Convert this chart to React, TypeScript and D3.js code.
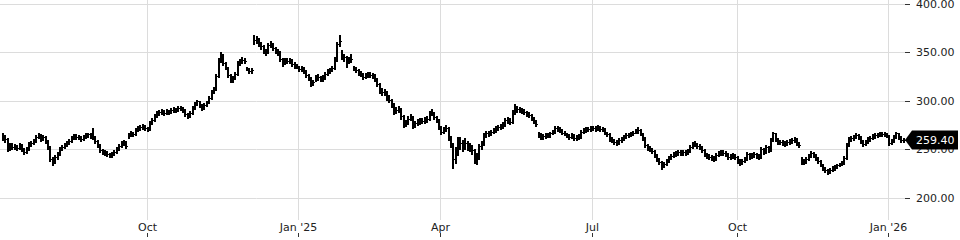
import React from "react";
import * as d3 from "d3";

// Daily HLC bars (Jul 2024 – Jan 2026)
const closes: number[] = [
  263,260,250,254,252,253,251,254,250,247, 250,255,256,258,262,264,260,262,258,252,
  240,238,242,245,250,252,254,256,258,261, 263,262,262,260,262,264,265,263,262,258,
  254,249,247,246,245,244,245,247,250,253, 256,257,253,264,267,265,270,272,273,274,
  272,271,277,280,284,287,288,289,287,289, 288,290,291,290,292,292,290,286,284,287,
  292,296,299,295,292,295,297,303,309,312, 325,342,347,339,334,326,321,323,327,339,
  341,342,341,333,330,331,362,363,359,356, 351,350,357,358,354,352,350,343,340,342,
  341,342,338,337,335,332,334,330,326,323, 318,319,324,324,322,323,327,330,331,333,
  342,358,361,345,345,340,342,343,334,331, 329,327,324,326,327,326,326,322,317,311,
  309,309,304,301,296,289,290,291,284,276, 277,281,283,275,277,278,280,279,280,281,
  287,287,283,280,273,268,271,272,262,255, 240,248,257,256,254,256,254,252,249,241,
  242,253,255,264,267,266,268,270,272,273, 274,276,280,280,278,288,293,291,290,290,
  288,286,285,282,279,276,265,262,263,264, 264,266,268,272,271,270,267,266,264,262,
  264,261,262,262,268,270,271,271,272,272, 271,273,271,271,267,265,260,259,257,256,
  259,260,262,264,265,266,267,269,270,266, 261,254,251,250,248,244,240,237,232,235,
  238,241,243,245,246,247,246,247,246,248, 252,255,255,253,252,249,245,243,242,241,
  240,244,246,247,246,245,242,242,244,242, 238,236,238,240,245,242,243,245,243,242,
  250,247,252,249,259,266,260,257,257,256, 255,257,258,259,260,256,254,238,237,240,
  243,246,244,241,238,234,230,228,226,228, 230,231,233,234,236,241,254,260,261,262,
  264,262,258,255,257,260,261,263,264,265, 266,265,266,264,256,258,262,266,262,259,
  259.4,
];

const highs: number[] = [
  266,264,261,256,256,255,254,256,255,251, 252,257,258,260,264,266,265,264,263,259,
  253,242,244,247,252,254,256,258,260,263, 265,265,264,263,264,266,267,266,272,263,
  259,255,250,249,248,246,247,249,252,255, 258,259,258,266,269,268,272,274,275,276,
  275,273,279,282,286,289,290,291,290,291, 290,292,293,292,294,294,293,291,287,289,
  294,298,301,300,296,297,299,305,311,314, 327,344,350,348,340,335,327,325,329,341,
  343,345,344,335,334,333,368,367,364,360, 357,353,359,361,359,355,353,351,344,344,
  344,344,343,340,338,336,336,335,331,327, 324,321,326,327,325,326,329,332,333,336,
  345,360,368,352,348,346,345,348,336,335, 332,330,328,328,329,329,328,327,323,318,
  313,312,310,306,302,297,293,294,292,285, 280,284,286,284,279,281,282,282,283,284,
  289,291,288,284,281,274,273,275,273,263, 256,252,262,262,259,261,258,256,254,250,
  246,255,258,266,269,269,270,272,274,275, 276,278,282,283,282,290,296,294,293,292,
  291,289,288,286,283,280,268,266,265,266, 266,268,270,274,274,273,271,269,267,265,
  266,265,264,265,270,272,273,273,274,274, 274,275,274,273,272,268,266,262,260,259,
  261,262,264,266,267,268,269,271,273,271, 267,262,255,253,251,249,245,241,238,237,
  240,243,245,247,248,249,249,249,249,250, 254,257,258,256,255,253,250,246,245,244,
  243,246,248,249,249,248,246,245,246,245, 243,240,240,242,247,246,246,247,246,245,
  252,251,254,253,261,268,266,261,259,259, 258,259,260,261,262,261,257,242,240,242,
  245,248,247,245,242,239,235,231,229,230, 232,233,235,236,238,243,256,262,263,264,
  266,265,263,259,259,262,263,265,266,267, 268,268,268,267,264,260,264,268,267,263,
  261,
];

const lows: number[] = [
  259,257,248,249,250,250,249,250,248,245, 246,249,253,255,257,261,258,259,256,250,
  238,234,236,240,244,249,251,253,255,257, 260,260,260,258,259,261,262,261,260,256,
  252,247,245,244,243,242,242,244,246,249, 252,254,251,261,263,263,264,269,270,271,
  270,269,270,276,279,283,285,286,285,286, 286,287,288,288,289,290,288,284,282,283,
  286,291,295,293,290,291,294,297,302,308, 311,324,340,337,332,324,319,319,322,326,
  337,339,339,331,328,328,358,359,356,353, 349,347,349,355,352,349,347,341,336,338,
  339,339,336,334,333,330,330,328,324,321, 315,316,320,321,320,320,322,326,328,330,
  332,341,356,343,341,335,339,340,331,329, 326,325,322,323,324,324,323,320,315,308,
  306,306,301,298,293,286,287,288,281,273, 274,276,280,272,273,275,276,277,277,278,
  280,285,281,278,271,265,266,269,259,252, 230,236,244,250,248,250,249,248,245,236,
  235,240,250,254,262,263,264,266,268,270, 271,272,274,277,276,277,286,288,288,287,
  286,284,283,280,277,274,262,260,260,261, 262,262,265,267,269,268,265,264,262,260,
  261,259,259,260,261,266,268,269,269,270, 269,270,269,269,265,263,258,257,255,254,
  255,257,259,261,262,263,264,266,267,264, 259,252,249,248,246,242,238,235,229,231,
  234,237,240,242,243,244,244,244,244,245, 247,251,253,251,250,247,243,241,240,239,
  238,239,243,244,244,243,240,240,241,240, 236,234,235,237,239,240,241,242,241,240,
  241,245,246,247,248,258,258,255,255,254, 253,254,255,256,257,254,252,235,235,236,
  239,242,242,239,236,232,228,226,224,225, 227,228,230,232,233,235,240,253,258,259,
  261,260,256,253,254,256,258,260,261,262, 263,263,263,262,254,255,257,261,260,257,
  257,
];

const yTicks: number[] = [200, 250, 300, 350, 400];
const xTickLabels: string[] = ["Oct", "Jan '25", "Apr", "Jul", "Oct", "Jan '26"];
const xTickBars: number[] = [61, 125, 185, 249, 310, 374];
const lastPrice = 259.4;

export default function App() {
  const W = 960;
  const H = 240;
  const x = d3.scaleLinear().domain([0, closes.length - 1]).range([2, 902.6]);
  const y = d3.scaleLinear().domain([200, 400]).range([197.5, 3.5]);
  const font = "'DejaVu Sans', sans-serif";
  const gridColor = "#dcdcdc";
  const axisRight = 905;
  const fmt = d3.format(".2f");

  const stems = closes
    .map((_, i) => {
      const xi = Math.round(x(i));
      const yh = Math.round(y(highs[i]));
      const yl = Math.round(y(lows[i])) + 1;
      return `M${xi + 1},${yh}V${yl}`;
    })
    .join("");
  const ticks = closes
    .map((c, i) => {
      const xi = Math.round(x(i));
      const yc = Math.round(y(c)) + 0.5;
      return `M${xi},${yc}H${xi + 3}`;
    })
    .join("");

  const yc = y(lastPrice);

  return (
    <svg
      width={W}
      height={H}
      style={{ position: "absolute", left: 0, top: 0, display: "block", background: "#fff" }}
    >
      {xTickBars.map((b, i) => {
        const xx = Math.round(x(b)) + 0.5;
        return (
          <g key={"xg" + i}>
            <line x1={xx} x2={xx} y1={0} y2={220} stroke={gridColor} strokeWidth={1} />
            <line x1={xx} x2={xx} y1={233} y2={237} stroke="#333" strokeWidth={1} />
            <text x={xx} y={231} textAnchor="middle" fontFamily={font} fontSize={11} fill="#222">
              {xTickLabels[i]}
            </text>
          </g>
        );
      })}
      {yTicks.map((t) => {
        const yy = Math.round(y(t)) + 0.5;
        return (
          <g key={"yg" + t}>
            <line x1={0} x2={axisRight} y1={yy} y2={yy} stroke={gridColor} strokeWidth={1} />
            <line x1={axisRight} x2={axisRight + 5} y1={yy} y2={yy} stroke="#333" strokeWidth={1} />
            <text x={916} y={yy} dy="0.35em" fontFamily={font} fontSize={11} fill="#222">
              {fmt(t)}
            </text>
          </g>
        );
      })}
      <path d={stems} stroke="#000" strokeWidth={2} fill="none" shapeRendering="crispEdges" />
      <path d={ticks} stroke="#000" strokeWidth={1} fill="none" shapeRendering="crispEdges" />
      <path
        d={`M${axisRight},${yc}L${axisRight + 7},${yc - 9.5}H958V${yc + 9.5}H${axisRight + 7}Z`}
        fill="#000"
      />
      <text x={916} y={yc} dy="0.35em" fontFamily={font} fontSize={11} fill="#fff">
        {fmt(lastPrice)}
      </text>
    </svg>
  );
}
